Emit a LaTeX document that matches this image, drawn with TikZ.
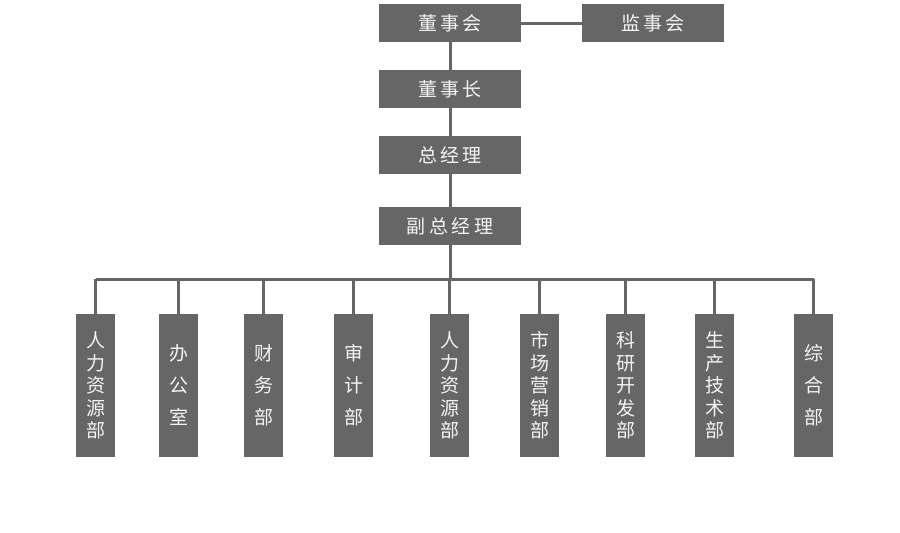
\documentclass[tikz,border=0pt]{standalone}
\usepackage{fontspec}
\setmainfont{Noto Sans CJK SC}
\newfontfamily\cjkwide[LetterSpace=18]{Noto Sans CJK SC}
\usetikzlibrary{positioning}
\definecolor{boxgray}{HTML}{666666}
\definecolor{textwhite}{HTML}{F4F4F4}

\begin{document}
\begin{tikzpicture}[
    x=1pt, y=-1pt,
    % Styles
    topbox/.style={rectangle, fill=boxgray, minimum width=142pt, minimum height=38pt, inner sep=0pt, text=textwhite, font=\cjkwide\fontsize{19}{22}\selectfont},
    deptbox/.style={rectangle, fill=boxgray, minimum width=39pt, minimum height=143pt, inner sep=0pt, text=textwhite, align=center},
    longtext/.style={font=\fontsize{19}{22.5}\selectfont},
    shorttext/.style={font=\fontsize{19}{32}\selectfont},
    link/.style={draw=boxgray, line width=3pt}
]

\useasboundingbox (0,0) rectangle (900,533);

% ==================== TOP LEVEL ====================
\node[topbox] (dsh) at (450, 23) {董事会};
\node[topbox] (jsh) at (653, 23) {监事会};
\node[topbox] (dsz) at (450, 89) {董事长};
\node[topbox] (zjl) at (450, 155) {总经理};
\node[topbox] (fzjl) at (450, 226) {副总经理};

\draw[link] (dsh.east) -- (jsh.west);
\draw[link] (dsh.south) -- (dsz.north);
\draw[link] (dsz.south) -- (zjl.north);
\draw[link] (zjl.south) -- (fzjl.north);

% ==================== DEPARTMENTS ====================
\node[deptbox, longtext] (d1) at (95.5, 385.5) {人\\力\\资\\源\\部};
\node[deptbox, shorttext] (d2) at (178.5, 385.5) {办\\公\\室};
\node[deptbox, shorttext] (d3) at (263.5, 385.5) {财\\务\\部};
\node[deptbox, shorttext] (d4) at (353.5, 385.5) {审\\计\\部};
\node[deptbox, longtext] (d5) at (449.5, 385.5) {人\\力\\资\\源\\部};
\node[deptbox, longtext] (d6) at (539.5, 385.5) {市\\场\\营\\销\\部};
\node[deptbox, longtext] (d7) at (625.5, 385.5) {科\\研\\开\\发\\部};
\node[deptbox, longtext] (d8) at (714.5, 385.5) {生\\产\\技\\术\\部};
\node[deptbox, shorttext] (d9) at (813.5, 385.5) {综\\合\\部};

% Bus line
\coordinate (bus) at (449.5, 279);
\draw[link] (fzjl.south) -- (fzjl.south |- bus);
\draw[link] (d1.north |- bus) -- (d9.north |- bus);
\foreach \d in {d1,d2,d3,d4,d5,d6,d7,d8,d9}
    \draw[link] (\d.north) -- (\d.north |- bus);

\end{tikzpicture}
\end{document}
